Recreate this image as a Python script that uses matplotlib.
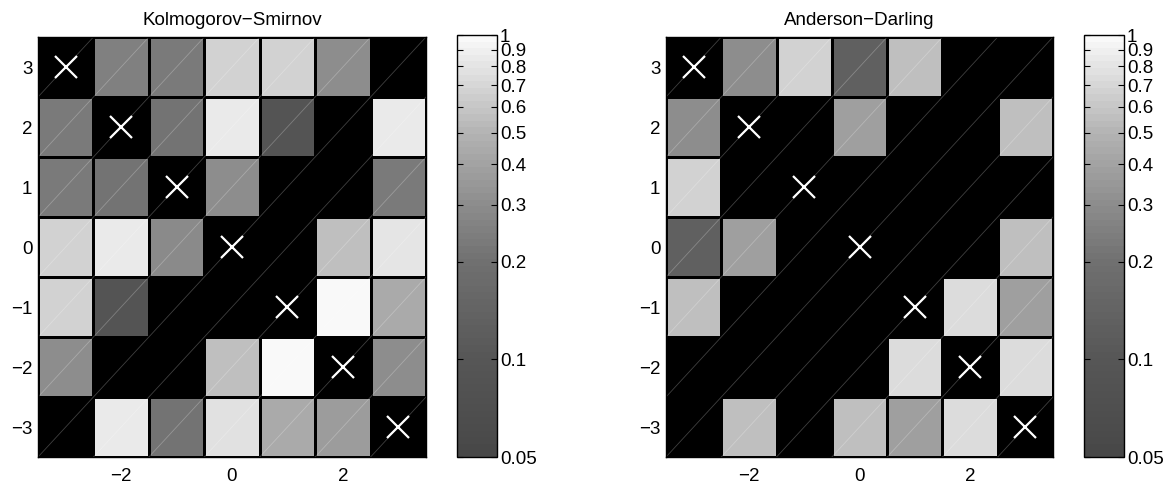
import numpy as np
import matplotlib
matplotlib.use("Agg")
import matplotlib.pyplot as plt
from matplotlib.colors import LogNorm, LinearSegmentedColormap

plt.rcParams['font.family'] = ['Liberation Sans', 'DejaVu Sans']

# shifts on both axes
shifts = [-3, -2, -1, 0, 1, 2, 3]

# p-values, rows from y=3 (top) down to y=-3, columns x=-3..3
# black cells (< 0.05) stored as 0.01, diagonal as 0
ks_p = [
    [0.00, 0.25, 0.23, 0.67, 0.67, 0.31, 0.01],
    [0.23, 0.00, 0.21, 0.86, 0.09, 0.01, 0.86],
    [0.23, 0.21, 0.00, 0.30, 0.01, 0.01, 0.23],
    [0.67, 0.84, 0.29, 0.00, 0.01, 0.57, 0.80],
    [0.67, 0.09, 0.01, 0.01, 0.00, 0.98, 0.44],
    [0.30, 0.01, 0.01, 0.57, 0.98, 0.00, 0.31],
    [0.01, 0.84, 0.21, 0.78, 0.44, 0.36, 0.00],
]
ad_p = [
    [0.00, 0.31, 0.67, 0.13, 0.57, 0.01, 0.01],
    [0.31, 0.00, 0.01, 0.39, 0.01, 0.01, 0.57],
    [0.67, 0.01, 0.00, 0.01, 0.01, 0.01, 0.01],
    [0.13, 0.39, 0.01, 0.00, 0.01, 0.01, 0.57],
    [0.57, 0.01, 0.01, 0.01, 0.00, 0.75, 0.39],
    [0.01, 0.01, 0.01, 0.01, 0.75, 0.00, 0.75],
    [0.01, 0.57, 0.01, 0.57, 0.39, 0.75, 0.00],
]
titles = ["Kolmogorov\u2212Smirnov", "Anderson\u2212Darling"]
cb_ticks = [0.05, 0.1, 0.2, 0.3, 0.4, 0.5, 0.6, 0.7, 0.8, 0.9, 1]
cb_labels = ["0.05", "0.1", "0.2", "0.3", "0.4", "0.5", "0.6", "0.7", "0.8", "0.9", "1"]

# grey map, position on log scale -> grey level
cmap = LinearSegmentedColormap.from_list(
    "greys_p",
    [(0.0, (0.28,) * 3), (0.231, (0.34,) * 3), (0.463, (0.44,) * 3),
     (0.598, (0.55,) * 3), (0.769, (0.70,) * 3), (1.0, (0.975,) * 3)],
    N=64)
cmap.set_under("black")
cmap.set_bad("black")
norm = LogNorm(vmin=0.05, vmax=1)

W, H = 1172, 483
fig = plt.figure(figsize=(W / 100, H / 100), dpi=100)

ax_boxes = [(38, 37, 388, 420), (666, 37, 387, 420)]
cb_boxes = [(457, 35, 40, 422), (1084, 35, 40, 422)]
fs = 13.5

x = np.array(shifts)
y = np.array(shifts[::-1])
edges_x = np.append(x - 0.5, x[-1] + 0.5)
edges_y = np.append(y + 0.5, y[-1] - 0.5)

for data, title, axb, cbb in zip([ks_p, ad_p], titles, ax_boxes, cb_boxes):
    l, t, w, h = axb
    ax = fig.add_axes([l / W, 1 - (t + h) / H, w / W, h / H])
    vals = np.ma.masked_less_equal(np.array(data), 0)
    mesh = ax.pcolormesh(edges_x, edges_y, vals, cmap=cmap, norm=norm,
                         edgecolors="black", linewidth=0.9)
    # faint diagonal seams through cell corners
    for k in range(-len(x) + 1, len(x)):
        ax.plot(edges_x, edges_x + k, color="white", alpha=0.25, lw=0.6, zorder=2)
    # crosses on the diagonal (top-left to bottom-right)
    ax.plot(x, y, "x", color="white", ms=16, mew=1.6, zorder=3)
    ax.set_xlim(edges_x[0], edges_x[-1])
    ax.set_ylim(edges_y[-1], edges_y[0])
    ax.set_xticks([-2, 0, 2])
    ax.set_xticklabels(["\u22122", "0", "2"])
    ax.set_yticks(shifts)
    ax.set_yticklabels([str(v).replace("-", "\u2212") for v in shifts])
    ax.tick_params(axis="both", length=0, labelsize=fs)
    ax.tick_params(axis="x", pad=8)
    ax.tick_params(axis="y", pad=4)
    for s in ax.spines.values():
        s.set_linewidth(1.0)
    ax.set_title(title, fontsize=fs, pad=9)

    cl, ct, cw, ch = cbb
    cax = fig.add_axes([cl / W, 1 - (ct + ch) / H, cw / W, ch / H])
    cb = fig.colorbar(mesh, cax=cax)
    cb.set_ticks(cb_ticks)
    cb.set_ticklabels(cb_labels)
    cb.minorticks_off()
    cax.tick_params(direction="in", left=True, right=True, length=4,
                    width=0.8, labelsize=fs, pad=2)
    cb.outline.set_linewidth(1.0)

fig.savefig("out.png", dpi=100)
